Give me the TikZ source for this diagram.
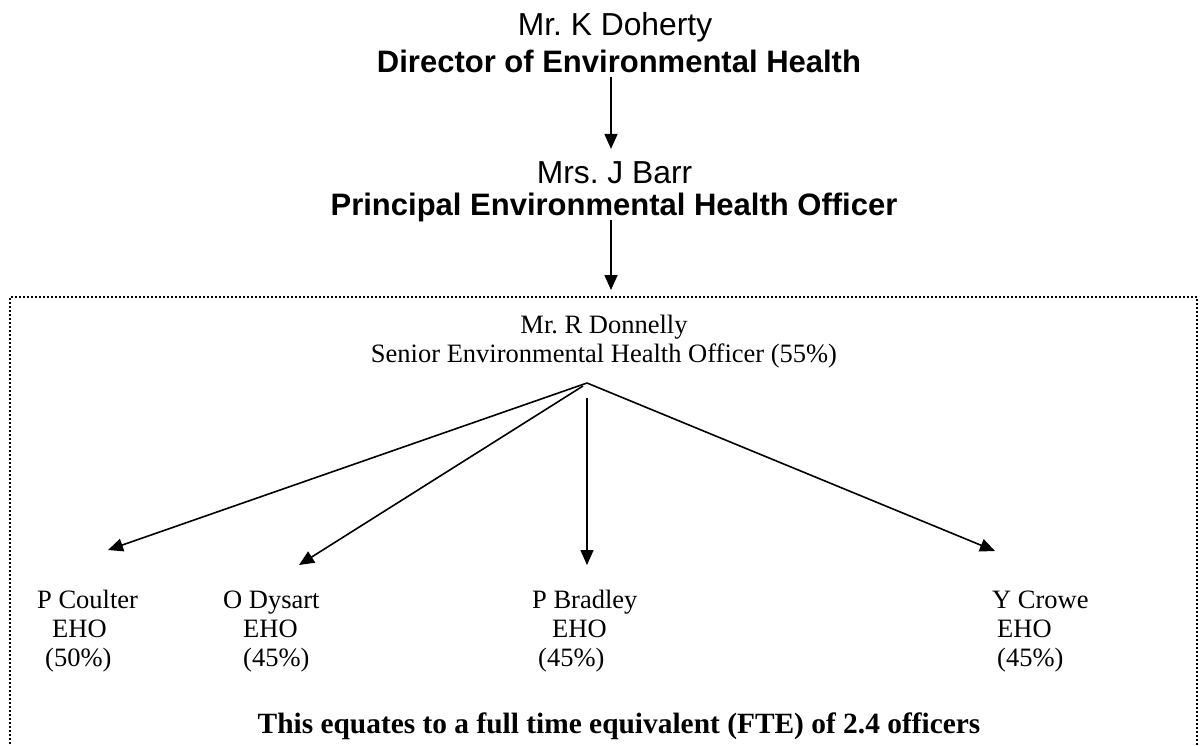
\documentclass[tikz,border=0pt]{standalone}
\usepackage{fontspec}
\setmainfont{Liberation Serif}
\newfontfamily\arialfont{Liberation Sans}
\usetikzlibrary{arrows.meta}
\frenchspacing
\begin{document}
\begin{tikzpicture}[x=1pt, y=-1pt,
  head/.style={font=\arialfont\fontsize{31.8}{34}\selectfont, inner sep=0, anchor=base},
  headtitle/.style={font=\arialfont\bfseries\fontsize{31}{34}\selectfont, inner sep=0, anchor=base},
  senior/.style={font=\fontsize{26.5}{29}\selectfont, inner sep=0, anchor=base},
  staff/.style={font=\fontsize{26.5}{29}\selectfont, inner sep=0, anchor=base west, align=left},
  note/.style={font=\bfseries\fontsize{29.4}{34}\selectfont, inner sep=0, anchor=base},
  link/.style={-{Triangle[length=15pt,width=13pt]}, line width=1.6pt},
  frame/.style={line width=2pt, dash pattern=on 2pt off 2pt}]
\useasboundingbox (0,0) rectangle (1203,745);
\node[head] (kd) at (615,35) {Mr. K Doherty};
\node[headtitle] (dir) at (619,72) {Director of Environmental Health};
\node[head] (jb) at (614.5,183) {Mrs. J Barr};
\node[headtitle] (peho) at (614,215) {Principal Environmental Health Officer};
\draw[link] ([xshift=-8pt,yshift=-4pt]dir.south) -- ([xshift=-3.5pt,yshift=12pt]jb.north);
\coordinate (team) at (611,290);
\draw[link] ([xshift=-3pt,yshift=1.5pt]peho.south) -- (team);
\draw[frame] (10,760) -- (10,297) -- (1197,297) -- (1197,760);
\node[senior] (rd) at (604,333) {Mr. R Donnelly};
\node[senior] (rdrole) at (604,362) {Senior Environmental Health Officer (55\%)};
\coordinate (fan) at (587,383);
\node[staff] (pc) at (37,666) {P Coulter\\\hspace*{15pt}EHO\\\hspace*{8pt}(50\%)};
\node[staff] (od) at (223,666) {O Dysart\\\hspace*{20pt}EHO\\\hspace*{20pt}(45\%)};
\node[staff] (pb) at (532,666) {P Bradley\\\hspace*{20pt}EHO\\\hspace*{6pt}(45\%)};
\node[staff] (yc) at (992,666) {Y Crowe\\\hspace*{5pt}EHO\\\hspace*{5pt}(45\%)};
\coordinate (to-pc) at (108,550);
\coordinate (to-od) at (299,565);
\coordinate (to-pb) at (587,565);
\coordinate (to-yc) at (995,551);
\draw[link] (fan) -- (to-pc);
\draw[link] ([xshift=-4pt,yshift=-3pt]fan) -- (to-od);
\draw[link] ([yshift=-15pt]fan) -- (to-pb);
\draw[link] (fan) -- (to-yc);
\node[note] (fte) at (619,733) {This equates to a full time equivalent (FTE) of 2.4 officers};
\end{tikzpicture}
\end{document}
